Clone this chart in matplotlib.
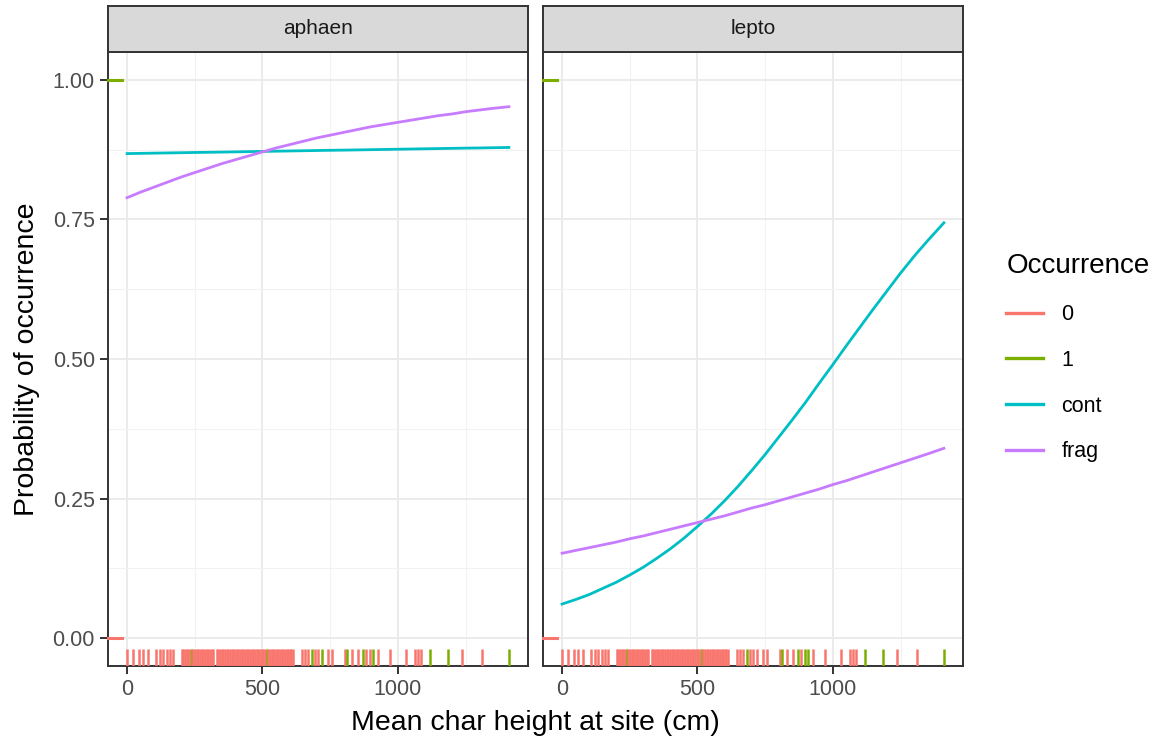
import matplotlib
matplotlib.use('Agg')
import matplotlib.pyplot as plt
from matplotlib.lines import Line2D
from matplotlib.collections import LineCollection

plt.rcParams['font.family'] = ['Liberation Sans', 'DejaVu Sans']

# fitted curves
curve_x = [0, 50, 100, 150, 200, 250, 300, 350, 400, 450, 500, 550, 600, 650, 700,
           750, 800, 850, 900, 950, 1000, 1050, 1100, 1150, 1200, 1250, 1300, 1350, 1410]
aphaen_cont = [0.8680, 0.8684, 0.8688, 0.8692, 0.8696, 0.8700, 0.8703, 0.8707, 0.8711,
               0.8715, 0.8719, 0.8723, 0.8727, 0.8731, 0.8735, 0.8739, 0.8742, 0.8746,
               0.8750, 0.8754, 0.8758, 0.8762, 0.8766, 0.8770, 0.8774, 0.8778, 0.8781,
               0.8785, 0.8790]
aphaen_frag = [0.789, 0.799, 0.808, 0.817, 0.826, 0.834, 0.842, 0.850, 0.857, 0.864,
               0.871, 0.878, 0.884, 0.890, 0.896, 0.901, 0.906, 0.911, 0.916, 0.920,
               0.924, 0.928, 0.932, 0.936, 0.939, 0.943, 0.946, 0.949, 0.952]
lepto_cont = [0.061, 0.069, 0.078, 0.089, 0.100, 0.113, 0.127, 0.143, 0.160, 0.179,
              0.200, 0.222, 0.246, 0.272, 0.300, 0.329, 0.360, 0.391, 0.423, 0.457,
              0.490, 0.524, 0.557, 0.590, 0.622, 0.654, 0.684, 0.712, 0.744]
lepto_frag = [0.152, 0.157, 0.162, 0.167, 0.172, 0.178, 0.183, 0.189, 0.195, 0.201,
              0.207, 0.213, 0.219, 0.226, 0.233, 0.239, 0.246, 0.253, 0.260, 0.267,
              0.275, 0.282, 0.290, 0.298, 0.306, 0.314, 0.322, 0.330, 0.340]

# site char heights (rug) and which of them had the species present
rug_x = [0, 23, 45, 58, 79, 107, 122, 134, 146, 159, 169, 202, 208, 214, 220, 226, 232,
         239, 245, 251, 257, 263, 269, 276, 282, 288, 294, 300, 306, 312, 318, 331, 337,
         343, 349, 355, 361, 368, 374, 380, 386, 392, 398, 405, 411, 417, 423, 429, 435,
         442, 448, 454, 460, 466, 472, 479, 485, 491, 497, 503, 509, 515, 521, 528, 534,
         540, 546, 552, 558, 565, 571, 577, 583, 589, 595, 601, 607, 614, 645, 657, 669,
         682, 694, 706, 718, 743, 755, 805, 813, 829, 854, 872, 884, 897, 909, 927, 970,
         1030, 1063, 1075, 1087, 1118, 1186, 1235, 1312, 1411]
green_aphaen = [239, 515, 682, 718, 813, 872, 909, 1118, 1186, 1411]
green_lepto = [239, 515, 682, 813, 872, 897, 909, 1118, 1186, 1411]
occ_aphaen = [1 if x in green_aphaen else 0 for x in rug_x]
occ_lepto = [1 if x in green_lepto else 0 for x in rug_x]

levels = ['0', '1', 'cont', 'frag']
colors = {'0': '#F8766D', '1': '#7CAE00', 'cont': '#00BFC4', 'frag': '#C77CFF'}

panels = [
    ('aphaen', aphaen_cont, aphaen_frag, occ_aphaen),
    ('lepto', lepto_cont, lepto_frag, occ_lepto),
]

W, H = 1163, 740
fig = plt.figure(figsize=(W / 100, H / 100), dpi=100)

panel_left = [108, 543]
panel_w = 420
top, bottom = 52, 666
strip_top = 6
edge = '#333333'

for i, (name, cont, frag, occ) in enumerate(panels):
    x0 = panel_left[i] / W
    ax = fig.add_axes([x0, 1 - bottom / H, panel_w / W, (bottom - top) / H])
    ax.set_facecolor('white')
    ax.set_xlim(-70.5, 1480.5)
    ax.set_ylim(-0.05, 1.05)
    ax.set_xticks([0, 500, 1000])
    ax.set_xticks([250, 750, 1250], minor=True)
    ax.set_yticks([0, 0.25, 0.5, 0.75, 1.0])
    ax.set_yticks([0.125, 0.375, 0.625, 0.875], minor=True)
    ax.grid(True, which='major', color='#EBEBEB', lw=1.4, zorder=0)
    ax.grid(True, which='minor', color='#F2F2F2', lw=0.8, zorder=0)
    ax.set_axisbelow(True)
    for s in ax.spines.values():
        s.set_color(edge)
        s.set_linewidth(1.4)
    ax.tick_params(which='major', length=5.5, width=1.4, color=edge,
                   labelcolor='#4D4D4D', labelsize=15.5, pad=4)
    ax.tick_params(which='minor', length=0)
    if i == 0:
        ax.set_yticklabels(['0.00', '0.25', '0.50', '0.75', '1.00'])
    else:
        ax.tick_params(axis='y', which='both', left=False, labelleft=False)

    # bottom rug
    segs = [[(x, 0), (x, 0.028)] for x in rug_x]
    rug_cols = [colors[str(o)] for o in occ]
    lc = LineCollection(segs, colors=rug_cols, linewidths=1.8,
                        transform=ax.get_xaxis_transform(), zorder=3)
    ax.add_collection(lc)
    # left rug for the 0/1 responses
    for yv, lev in [(0, '0'), (1, '1')]:
        ax.plot([0, 0.033], [yv, yv], color=colors[lev], lw=2.2,
                transform=ax.get_yaxis_transform(), clip_on=False, zorder=3)

    ax.plot(curve_x, cont, color=colors['cont'], lw=2.0, zorder=4)
    ax.plot(curve_x, frag, color=colors['frag'], lw=2.0, zorder=4)

    # facet strip
    sax = fig.add_axes([x0, 1 - top / H, panel_w / W, (top - strip_top) / H])
    sax.set_facecolor('#D9D9D9')
    sax.set_xticks([])
    sax.set_yticks([])
    for s in sax.spines.values():
        s.set_color(edge)
        s.set_linewidth(1.4)
    sax.text(0.5, 0.5, name, ha='center', va='center', fontsize=15,
             color='#1A1A1A', transform=sax.transAxes)

fig.text((108 + 963) / 2 / W, 1 - 730 / H, 'Mean char height at site (cm)',
         ha='center', va='baseline', fontsize=20.5, color='black')
fig.text(27 / W, 1 - 359 / H, 'Probability of occurrence', ha='center', va='center',
         rotation=90, fontsize=20.5, color='black')

handles = [Line2D([], [], color=colors[l], lw=2.4) for l in levels]
leg = fig.legend(handles, levels, title='Occurrence', loc='upper left',
                 bbox_to_anchor=(987 / W, 1 - 234 / H), frameon=False,
                 fontsize=15.5, title_fontsize=20, handlelength=1.72,
                 handletextpad=0.84, labelspacing=1.15)
leg._legend_box.align = 'left'

fig.savefig('out.png', dpi=100, facecolor='white')
